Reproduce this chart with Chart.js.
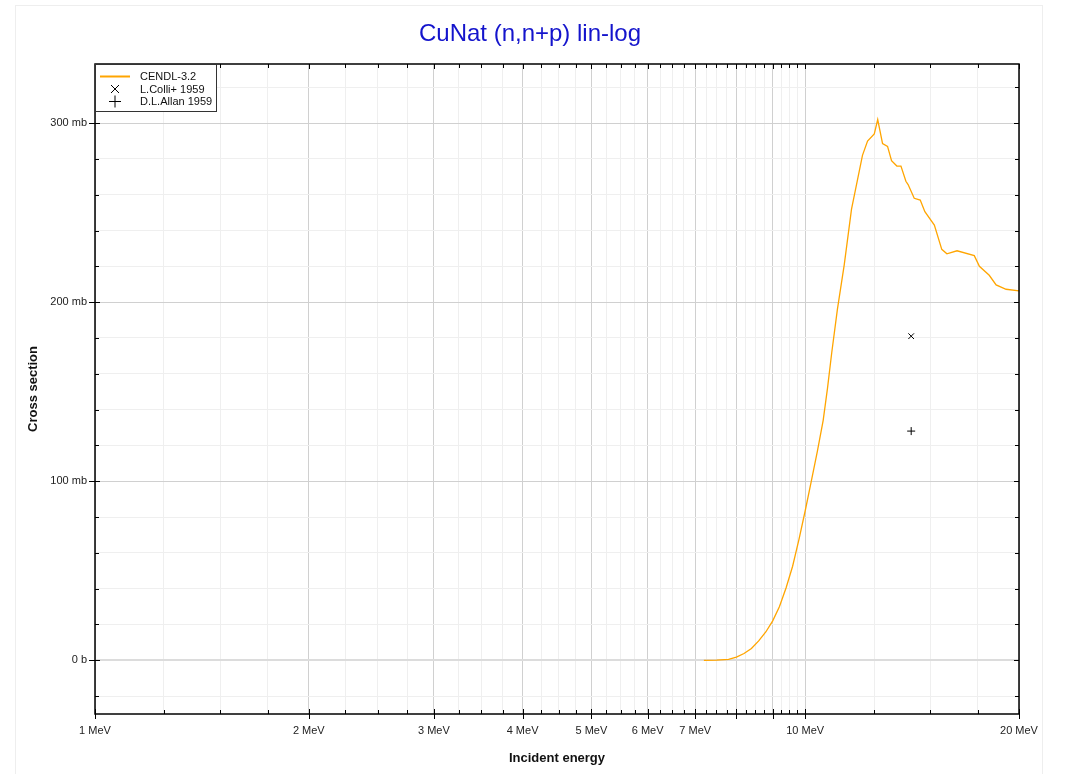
<!DOCTYPE html>
<html>
<head>
<meta charset="utf-8">
<title>CuNat (n,n+p) lin-log</title>
<script src="https://cdn.jsdelivr.net/npm/chart.js@4.4.1/dist/chart.umd.min.js"></script>
<style>
    html, body { margin: 0; padding: 0; background: #fff; overflow: hidden; }
    #xsChart { display: block; }
</style>
</head>
<body>
<canvas id="xsChart" width="1067" height="774"></canvas>
<script>
// ========== data (energy in MeV, cross section in mb) ==========
const cendlEnergy = [7.2, 7.5, 7.8, 8.0, 8.2, 8.4, 8.6, 8.8, 9.0, 9.2, 9.4, 9.6, 9.8, 10.0,
    10.2, 10.4, 10.6, 10.75, 10.9, 11.1, 11.35, 11.62, 12.04, 12.24, 12.51, 12.65, 12.85,
    13.06, 13.23, 13.46, 13.64, 13.86, 13.96, 14.24, 14.52, 14.74, 15.2, 15.57, 15.83,
    16.36, 17.3, 17.59, 18.16, 18.57, 19.18, 20.0];
const cendlXs = [0, 0.1, 0.5, 1.8, 3.8, 6.6, 10.8, 15.8, 22, 30, 40.5, 52.5, 67.5, 83.5,
    100, 116.5, 134, 152, 172, 196, 221, 252, 282, 290, 294, 302, 288.5,
    287, 279, 276, 276, 267.5, 265.7, 258, 257, 250.5, 243, 229.5, 227,
    228.7, 226, 220, 215, 209.6, 207.2, 206.3];

const colliEnergy = [14.1];
const colliXs = [181];
const allanEnergy = [14.1];
const allanXs = [128];

// ========== axis ticks ==========
const xMajorTicks = [1, 2, 3, 4, 5, 6, 7, 8, 9, 10, 20];
const xLabelTicks = [1, 2, 3, 4, 5, 6, 7, 10, 20];
const yMajorTicks = [0, 100, 200, 300];
const yTickLabels = ['0 b', '100 mb', '200 mb', '300 mb'];
const yMinorTicks = [-20, 20, 40, 60, 80, 120, 140, 160, 180, 220, 240, 260, 280, 320];

const FONT = '"Liberation Sans", Arial, sans-serif';

// quarter steps between neighbouring major ticks
function buildXTicks() {
    const ticks = [];
    for (let i = 0; i < xMajorTicks.length; i++) {
        const v = xMajorTicks[i];
        ticks.push({ value: v, major: true });
        const next = xMajorTicks[i + 1];
        if (next === undefined) break;
        const step = (next - v) / 4;
        for (let k = 1; k < 4; k++) ticks.push({ value: v + k * step, major: false });
    }
    return ticks;
}

function buildYTicks() {
    const ticks = yMajorTicks.map(v => ({ value: v, major: true }))
        .concat(yMinorTicks.map(v => ({ value: v, major: false })));
    return ticks.sort((a, b) => a.value - b.value);
}

function toPoints(xs, ys) {
    return xs.map((x, i) => ({ x: x, y: ys[i] }));
}

function gridColor(ctx) {
    if (!ctx.tick) return '#eeeeee';
    if (ctx.tick.value === 0 && ctx.scale.axis === 'y') return '#dcdcdc';
    return ctx.tick.major ? '#d0d0d0' : '#efefef';
}

// ========== frame, tick marks, legend, titles ==========
const decorPlugin = {
    id: 'decor',
    beforeDraw(chart) {
        const ctx = chart.ctx;
        ctx.save();
        ctx.strokeStyle = '#eeeeee';
        ctx.lineWidth = 1;
        ctx.strokeRect(15.5, 5.5, 1027, 800);
        ctx.restore();
    },
    afterDraw(chart) {
        const ctx = chart.ctx;
        const a = chart.chartArea;
        const xScale = chart.scales.x;
        const yScale = chart.scales.y;

        function seg(x1, y1, x2, y2) {
            ctx.beginPath();
            ctx.moveTo(x1, y1);
            ctx.lineTo(x2, y2);
            ctx.stroke();
        }

        ctx.save();
        // frame
        ctx.strokeStyle = '#000';
        ctx.lineWidth = 1.5;
        ctx.strokeRect(a.left, a.top, a.right - a.left, a.bottom - a.top);

        // tick marks
        ctx.lineWidth = 1;
        xScale.ticks.forEach(t => {
            const px = Math.round(xScale.getPixelForValue(t.value)) + 0.5;
            const len = t.major ? 5 : 4;
            seg(px, a.bottom - len, px, a.bottom + (t.major ? 5 : 0));
            seg(px, a.top, px, a.top + len);
        });
        yScale.ticks.forEach(t => {
            const py = Math.round(yScale.getPixelForValue(t.value)) + 0.5;
            const len = t.major ? 5 : 4;
            seg(a.left - (t.major ? 6 : 0), py, a.left + len, py);
            seg(a.right - len, py, a.right, py);
        });

        // legend box
        const ds = chart.data.datasets;
        ctx.fillStyle = '#fff';
        ctx.fillRect(a.left + 1, a.top + 1, 121, 47);
        ctx.strokeStyle = '#333';
        ctx.strokeRect(a.left + 0.5, a.top + 0.5, 121, 47);

        const rows = [a.top + 12.5, a.top + 25, a.top + 37.5];
        const symX = a.left + 20;
        ctx.strokeStyle = ds[0].borderColor;
        ctx.lineWidth = 2;
        seg(a.left + 5, rows[0], a.left + 35, rows[0]);

        ctx.strokeStyle = '#000';
        ctx.lineWidth = 1;
        seg(symX - 4, rows[1] - 4, symX + 4, rows[1] + 4);
        seg(symX - 4, rows[1] + 4, symX + 4, rows[1] - 4);
        seg(symX - 6, rows[2], symX + 6, rows[2]);
        seg(symX, rows[2] - 6, symX, rows[2] + 6);

        ctx.fillStyle = '#111';
        ctx.font = '11px ' + FONT;
        ctx.textAlign = 'left';
        ctx.textBaseline = 'middle';
        ds.forEach((d, i) => ctx.fillText(d.label, a.left + 45, rows[i] + 0.5));

        // chart title
        ctx.fillStyle = '#1414cc';
        ctx.font = '24px ' + FONT;
        ctx.textAlign = 'center';
        ctx.fillText('CuNat (n,n+p) lin-log', 530, 34);

        // axis titles
        ctx.fillStyle = '#111';
        ctx.font = 'bold 13px ' + FONT;
        ctx.fillText('Incident energy', (a.left + a.right) / 2, 758);
        ctx.translate(33, (a.top + a.bottom) / 2);
        ctx.rotate(-Math.PI / 2);
        ctx.fillText('Cross section', 0, 0);
        ctx.restore();
    }
};

// ========== chart ==========
const ctx = document.getElementById('xsChart').getContext('2d');
const xsChart = new Chart(ctx, {
    type: 'line',
    data: {
        datasets: [
            {
                label: 'CENDL-3.2',
                data: toPoints(cendlEnergy, cendlXs),
                borderColor: '#ffa500',
                backgroundColor: '#ffa500',
                borderWidth: 1.3,
                pointRadius: 0,
                tension: 0,
                fill: false
            },
            {
                label: 'L.Colli+ 1959',
                data: toPoints(colliEnergy, colliXs),
                showLine: false,
                pointStyle: 'crossRot',
                pointRadius: 4,
                borderColor: '#000',
                backgroundColor: '#000',
                pointBorderWidth: 1
            },
            {
                label: 'D.L.Allan 1959',
                data: toPoints(allanEnergy, allanXs),
                showLine: false,
                pointStyle: 'cross',
                pointRadius: 4,
                borderColor: '#000',
                backgroundColor: '#000',
                pointBorderWidth: 1
            }
        ]
    },
    options: {
        responsive: false,
        animation: false,
        layout: { padding: { top: 64, right: 48, left: 0, bottom: 0 } },
        plugins: {
            legend: { display: false },
            title: { display: false },
            tooltip: { enabled: false }
        },
        scales: {
            x: {
                type: 'logarithmic',
                min: 1,
                max: 20,
                afterBuildTicks: scale => { scale.ticks = buildXTicks(); },
                afterFit: scale => { scale.height = 60; },
                border: { display: false },
                grid: { color: gridColor, lineWidth: 1, drawTicks: false },
                ticks: {
                    autoSkip: false,
                    maxRotation: 0,
                    padding: 10,
                    color: '#222',
                    font: { family: FONT, size: 11 },
                    callback: value => xLabelTicks.includes(value) ? value + ' MeV' : ''
                }
            },
            y: {
                type: 'linear',
                min: -30,
                max: 333,
                afterBuildTicks: scale => { scale.ticks = buildYTicks(); },
                afterFit: scale => { scale.width = 95; },
                border: { display: false },
                grid: {
                    color: gridColor,
                    lineWidth: c => (c.tick && c.tick.value === 0) ? 2 : 1,
                    drawTicks: false
                },
                ticks: {
                    autoSkip: false,
                    padding: 8,
                    color: '#222',
                    font: { family: FONT, size: 11 },
                    callback: value => {
                        const i = yMajorTicks.indexOf(value);
                        return i >= 0 ? yTickLabels[i] : '';
                    }
                }
            }
        }
    },
    plugins: [decorPlugin]
});
</script>
</body>
</html>
